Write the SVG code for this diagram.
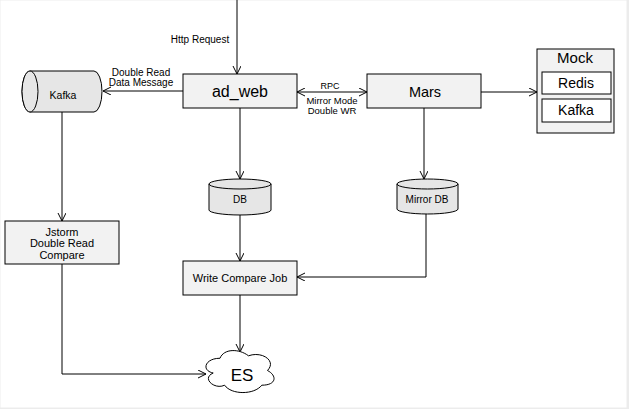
<svg xmlns="http://www.w3.org/2000/svg" width="629" height="409" viewBox="0 0 629 409">
<defs>
<marker id="arr" markerWidth="10" markerHeight="10" refX="8" refY="4" orient="auto" markerUnits="userSpaceOnUse">
<path d="M0,0 L8,4 L0,8" fill="none" stroke="#000" stroke-width="1"/>
</marker>
<marker id="arrS" markerWidth="10" markerHeight="10" refX="0" refY="4" orient="auto" markerUnits="userSpaceOnUse">
<path d="M8,0 L0,4 L8,8" fill="none" stroke="#000" stroke-width="1"/>
</marker>
</defs>
<style>
.box{fill:#f2f2f2;stroke:#000;stroke-width:1}
.cyl{fill:#e6e6e6;stroke:#000;stroke-width:1}
.wbox{fill:#ffffff;stroke:#000;stroke-width:1}
.edge{fill:none;stroke:#000;stroke-width:1;marker-end:url(#arr)}
text{font-family:"Liberation Sans",Arial,sans-serif;fill:#000;text-anchor:middle}
.s{font-size:10px}
.m{font-size:11px}
</style>
<rect x="0" y="0" width="629" height="409" fill="#ececec"/>
<rect x="0.5" y="0.5" width="626" height="407" fill="#ffffff"/>

<g id="connectors">
<path class="edge" d="M237,0 V74"/>
<path class="edge" d="M183,91 H103"/>
<path class="edge" d="M297,92 H367" style="marker-start:url(#arrS)"/>
<path class="edge" d="M481,92 H537"/>
<path class="edge" d="M240,108 V179"/>
<path class="edge" d="M424,108 V179"/>
<path class="edge" d="M62,112 V221"/>
<path class="edge" d="M240,215 V261"/>
<path class="edge" d="M426,214 V277 H297"/>
<path class="edge" d="M240,295 V352"/>
<path class="edge" d="M62,264 V374 H206"/>
<text class="s" x="200" y="43">Http Request</text>
<text class="s" x="141" y="76">Double Read</text>
<text class="s" x="141" y="86">Data Message</text>
<text class="s" x="330" y="89" style="font-size:9px">RPC</text>
<text class="s" x="332" y="104" style="font-size:9.5px">Mirror Mode</text>
<text class="s" x="332" y="114" style="font-size:9.5px">Double WR</text>
</g>

<g id="ad_web">
<rect class="box" x="183" y="74" width="114" height="34"/>
<text x="240" y="97" style="font-size:16px">ad_web</text>
</g>

<g id="mars">
<rect class="box" x="367" y="74" width="114" height="34"/>
<text x="425" y="97" style="font-size:14.5px">Mars</text>
</g>

<g id="mock">
<rect class="box" x="537" y="49" width="77" height="84"/>
<text x="575" y="63" style="font-size:15px">Mock</text>
<rect class="wbox" x="542" y="72" width="69" height="22"/>
<text x="576" y="88" style="font-size:14px">Redis</text>
<rect class="wbox" x="542" y="99" width="69" height="23"/>
<text x="576" y="115" style="font-size:14px">Kafka</text>
</g>

<g id="kafka">
<path class="cyl" d="M30,71 H94 A8,20.5 0 0 1 94,112 H30 A8,20.5 0 0 1 30,71 Z"/>
<ellipse class="cyl" cx="30" cy="91.5" rx="8" ry="20.5"/>
<text x="63" y="99" style="font-size:10.5px">Kafka</text>
</g>

<g id="db">
<path class="cyl" d="M209,184 A31,5 0 0 1 271,184 V210 A31,5 0 0 1 209,210 Z"/>
<path fill="none" stroke="#000" d="M209,184 A31,5 0 0 0 271,184"/>
<text class="s" x="240" y="203">DB</text>
</g>

<g id="mirror_db">
<path class="cyl" d="M397,184 A30.5,5 0 0 1 458,184 V209 A30.5,5 0 0 1 397,209 Z"/>
<path fill="none" stroke="#000" d="M397,184 A30.5,5 0 0 0 458,184"/>
<text class="s" x="427" y="203">Mirror DB</text>
</g>

<g id="jstorm">
<rect class="box" x="5" y="221" width="114" height="43"/>
<text class="m" x="62" y="236">Jstorm</text>
<text class="m" x="62" y="247">Double Read</text>
<text class="m" x="62" y="259">Compare</text>
</g>

<g id="write_compare_job">
<rect class="box" x="183" y="261" width="114" height="34"/>
<text class="m" x="240" y="282">Write Compare Job</text>
</g>

<g id="es">
<path fill="#ffffff" stroke="#000" stroke-width="1" d="M220,358.25 C204.8,358.25 201,370.5 213.2,373 C201,378.3 214.7,390.1 224.6,385.2 C231.4,395 254.2,395 261.8,385.2 C277,385.2 277,375.4 267.5,370.5 C277,360.7 261.8,350.9 248.5,355.8 C239,348.45 223.8,348.45 220,358.25 Z"/>
<text x="242" y="381" style="font-size:17px">ES</text>
</g>
</svg>
